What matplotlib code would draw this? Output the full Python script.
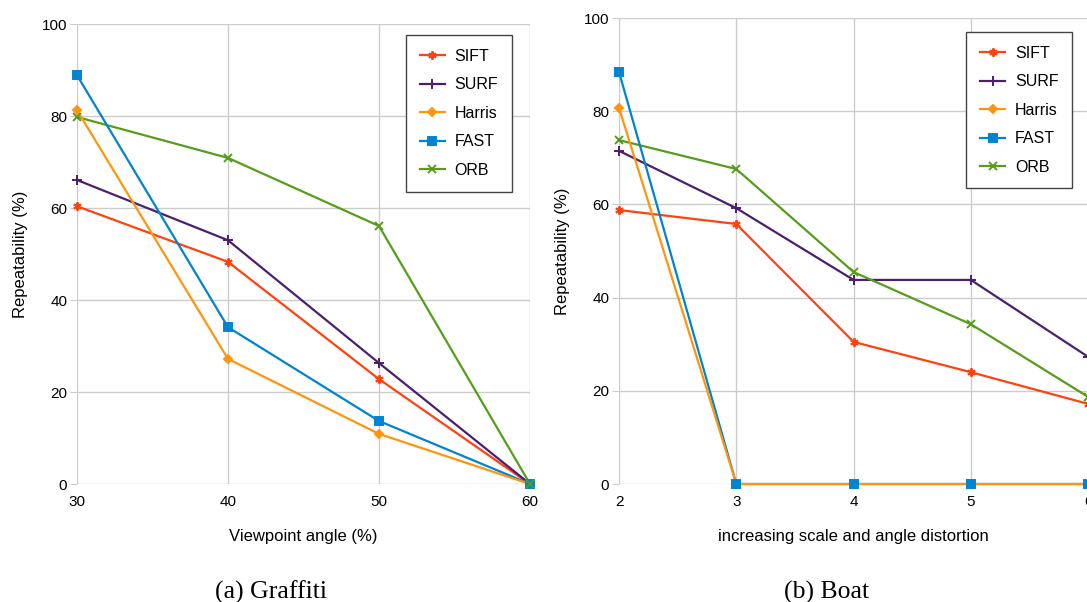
import numpy as np
import matplotlib.pyplot as plt

# data
methods = ["SIFT", "SURF", "Harris", "FAST", "ORB"]
colors = ["#ff420e", "#4b1f6f", "#ff950e", "#0084d1", "#579d1c"]
markers = [(6, 2, 0), "+", "D", "s", "x"]
msizes = [6, 7, 4.5, 5.5, 5.5]
line_z = [3, 3, 3.2, 3.1, 3]

angle = [30, 40, 50, 60]
graffiti_sift = [60.4, 48.3, 22.8, 0]
graffiti_surf = [66.1, 53.0, 26.3, 0]
graffiti_harris = [81.3, 27.2, 10.9, 0]
graffiti_fast = [88.9, 34.1, 13.7, 0]
graffiti_orb = [79.8, 70.9, 56.1, 0]

step = [2, 3, 4, 5, 6]
boat_sift = [58.8, 55.8, 30.5, 24.0, 17.2]
boat_surf = [71.5, 59.2, 43.8, 43.8, 27.3]
boat_harris = [80.7, 0, 0, 0, 0]
boat_fast = [88.4, 0, 0, 0, 0]
boat_orb = [73.8, 67.6, 45.5, 34.3, 18.7]

plt.rcParams['font.family'] = ['Liberation Sans', 'DejaVu Sans']

fig = plt.figure(figsize=(10.87, 6.02), dpi=100)
ax1 = fig.add_axes([0.0708, 0.196, 0.4168, 0.764])
ax2 = fig.add_axes([0.5695, 0.196, 0.4315, 0.774])

def panel(ax, x, series, xlabel, caption, xcap, legpos):
    for i, y in enumerate(series):
        # line below, markers on top
        ax.plot(x, y, color=colors[i], lw=1.6, clip_on=False, zorder=line_z[i])
        ax.plot(x, y, color=colors[i], marker=markers[i], ms=msizes[i], mew=1.4,
                lw=0, clip_on=False, zorder=4)
        ax.plot([], [], color=colors[i], marker=markers[i], ms=msizes[i], mew=1.4,
                lw=1.6, label=methods[i])
    ax.set_xlim(x[0], x[-1])
    ax.set_ylim(0, 100)
    ax.set_xticks(x)
    ax.set_yticks(np.arange(0, 101, 20))
    ax.grid(True, color="#cccccc", lw=1)
    ax.set_axisbelow(True)
    for s in ax.spines.values():
        s.set_visible(False)
    ax.tick_params(axis='x', length=0, labelsize=11, pad=8)
    ax.tick_params(axis='y', length=5, color="#cccccc", labelsize=11, pad=2)
    ax.set_xlabel(xlabel, fontsize=12, labelpad=14)
    ax.set_ylabel("Repeatability (%)", fontsize=12, labelpad=10)
    leg = ax.legend(loc="upper right", bbox_to_anchor=legpos, fontsize=11.5,
                    fancybox=False, framealpha=1, edgecolor="#444444",
                    handlelength=1.6, handletextpad=0.6, labelspacing=0.85,
                    borderpad=0.85, borderaxespad=0)
    leg.get_frame().set_linewidth(1.0)
    fig.text(xcap, 0.006, caption, family='Liberation Serif', fontsize=18.5, ha='center')

panel(ax1, angle, [graffiti_sift, graffiti_surf, graffiti_harris, graffiti_fast, graffiti_orb],
      "Viewpoint angle (%)", "(a) Graffiti", 0.249, (0.960, 0.976))
panel(ax2, step, [boat_sift, boat_surf, boat_harris, boat_fast, boat_orb],
      "increasing scale and angle distortion", "(b) Boat", 0.760, (0.966, 0.970))

fig.savefig("out.png", dpi=100)
